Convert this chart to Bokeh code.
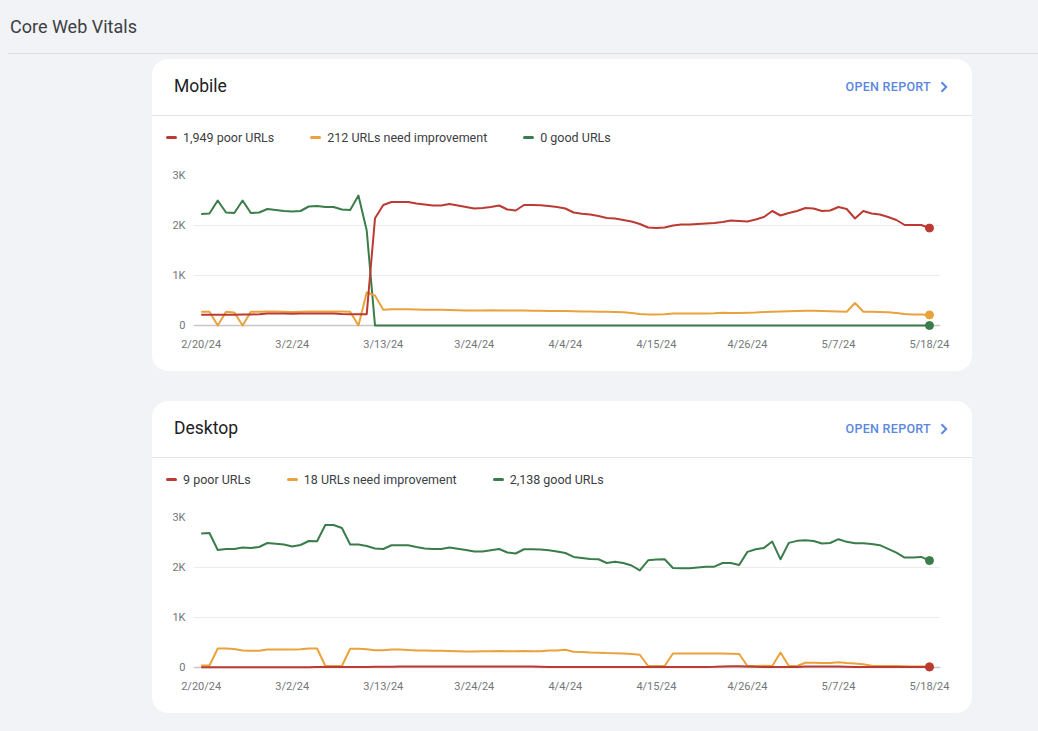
import numpy as np
import pandas as pd
from bokeh.plotting import figure
from bokeh.models import Div, Range1d, FixedTicker, Span
from bokeh.layouts import column
from bokeh.embed import file_html
from bokeh.resources import INLINE

# ---------------- data ----------------
dates = pd.date_range("2024-02-20", "2024-05-18", freq="D")
days = list(range(len(dates)))

tick_days = [0, 11, 22, 33, 44, 55, 66, 77, 88]
tick_labels = ["2/20/24", "3/2/24", "3/13/24", "3/24/24", "4/4/24",
               "4/15/24", "4/26/24", "5/7/24", "5/18/24"]
y_ticks = [0, 1000, 2000, 3000]
y_tick_labels = ["0", "1K", "2K", "3K"]

mobile_poor = [
    215, 215, 215, 215, 215, 220, 220, 225, 240, 240,
    240, 235, 240, 240, 240, 240, 240, 230, 225, 225,
    225, 2144, 2410, 2470, 2470, 2470, 2440, 2420, 2400, 2400,
    2430, 2400, 2370, 2340, 2350, 2370, 2400, 2320, 2300, 2410,
    2410, 2405, 2390, 2370, 2340, 2260, 2235, 2220, 2190, 2150,
    2140, 2110, 2080, 2030, 1960, 1950, 1960, 2000, 2020, 2020,
    2030, 2040, 2050, 2070, 2100, 2090, 2080, 2120, 2170, 2290,
    2200, 2250, 2290, 2350, 2340, 2290, 2300, 2370, 2330, 2140,
    2290, 2240, 2220, 2170, 2110, 2010, 2010, 2010, 1949,
]
mobile_ni = [
    275, 275, 0, 275, 260, 0, 275, 275, 280, 280,
    275, 270, 275, 280, 280, 280, 280, 280, 275, 0,
    660, 600, 315, 325, 325, 325, 320, 315, 315, 315,
    310, 305, 300, 300, 300, 305, 300, 300, 300, 300,
    295, 295, 290, 290, 290, 285, 280, 280, 275, 275,
    270, 265, 250, 230, 220, 220, 225, 240, 240, 240,
    240, 240, 245, 255, 250, 250, 255, 260, 270, 275,
    280, 285, 290, 295, 295, 290, 285, 280, 275, 450,
    275, 275, 270, 265, 250, 230, 220, 220, 212,
]
mobile_good = [
    2230, 2240, 2500, 2260, 2250, 2500, 2250, 2260, 2330, 2310,
    2290, 2280, 2290, 2380, 2390, 2370, 2370, 2320, 2310, 2600,
    1900, 0, 0, 0, 0, 0, 0, 0, 0, 0,
    0, 0, 0, 0, 0, 0, 0, 0, 0, 0,
    0, 0, 0, 0, 0, 0, 0, 0, 0, 0,
    0, 0, 0, 0, 0, 0, 0, 0, 0, 0,
    0, 0, 0, 0, 0, 0, 0, 0, 0, 0,
    0, 0, 0, 0, 0, 0, 0, 0, 0, 0,
    0, 0, 0, 0, 0, 0, 0, 0, 0,
]

desktop_poor = [
    5, 5, 5, 5, 5, 5, 5, 5, 5, 5,
    5, 5, 5, 5, 8, 8, 8, 10, 10, 10,
    12, 15, 15, 15, 18, 18, 18, 18, 18, 18,
    18, 18, 18, 18, 18, 18, 18, 18, 18, 18,
    18, 15, 12, 10, 10, 10, 10, 10, 12, 12,
    12, 12, 10, 8, 8, 8, 8, 8, 8, 10,
    10, 12, 15, 22, 25, 25, 22, 15, 12, 10,
    10, 10, 12, 18, 20, 20, 20, 18, 15, 12,
    12, 12, 10, 10, 10, 10, 9, 9, 9,
]
desktop_ni = [
    40, 40, 380, 380, 370, 340, 335, 335, 360, 360,
    360, 360, 365, 380, 380, 30, 30, 30, 375, 375,
    365, 345, 345, 360, 360, 350, 340, 340, 335, 335,
    330, 325, 320, 320, 325, 325, 330, 325, 325, 330,
    325, 325, 340, 340, 355, 315, 310, 300, 295, 288,
    285, 280, 270, 255, 30, 30, 30, 280, 282, 282,
    282, 280, 278, 278, 275, 270, 30, 30, 35, 30,
    300, 30, 30, 95, 95, 90, 90, 105, 90, 80,
    65, 35, 30, 30, 28, 25, 22, 20, 18,
]
desktop_good = [
    2680, 2690, 2350, 2370, 2370, 2400, 2390, 2410, 2490, 2475,
    2460, 2420, 2450, 2530, 2525, 2850, 2850, 2790, 2460, 2460,
    2430, 2380, 2370, 2445, 2445, 2445, 2410, 2380, 2370, 2370,
    2400, 2375, 2350, 2320, 2320, 2345, 2370, 2300, 2280, 2365,
    2365, 2360, 2345, 2320, 2290, 2211, 2190, 2171, 2165, 2090,
    2117, 2090, 2040, 1943, 2144, 2160, 2164, 1990, 1985, 1983,
    2000, 2017, 2017, 2090, 2090, 2050, 2312, 2365, 2392, 2519,
    2164, 2492, 2533, 2546, 2530, 2479, 2490, 2566, 2513, 2486,
    2486, 2470, 2446, 2372, 2298, 2198, 2198, 2211, 2138,
]

series_labels = ["poor URLs", "URLs need improvement", "good URLs"]
series_colors = ["#bb3b33", "#e9a23c", "#3a7d4b"]

FONT = "Roboto"
PAGE_BG = "#f1f3f7"


def make_chart(poor, ni, good):
    p = figure(width=820, height=215, output_backend="svg", toolbar_location=None,
               x_range=Range1d(-0.93, 89.33), y_range=Range1d(-100, 3000),
               min_border_left=41, min_border_right=32, min_border_top=19,
               min_border_bottom=41, background_fill_color=None,
               border_fill_color=None, outline_line_color=None, margin=0)
    p.background_fill_alpha = 0
    p.border_fill_alpha = 0

    ax = p.xaxis[0]
    ax.ticker = FixedTicker(ticks=tick_days)
    ax.major_label_overrides = {d: l for d, l in zip(tick_days, tick_labels)}
    ay = p.yaxis[0]
    ay.ticker = FixedTicker(ticks=y_ticks)
    ay.major_label_overrides = {v: l for v, l in zip(y_ticks, y_tick_labels)}
    for a in (ax, ay):
        a.axis_line_color = None
        a.major_tick_line_color = None
        a.minor_tick_line_color = None
        a.major_tick_out = 0
        a.major_tick_in = 0
        a.major_label_text_font = FONT
        a.major_label_text_font_size = "11px"
        a.major_label_text_color = "#737679"
    ax.major_label_standoff = 7
    ay.major_label_standoff = 8

    p.xgrid.visible = False
    p.ygrid.ticker = FixedTicker(ticks=y_ticks[1:])
    p.ygrid.grid_line_color = "#ececec"
    p.ygrid.grid_line_width = 1

    p.add_layout(Span(location=0, dimension="width", line_color="#c8c8c8",
                      line_width=1.5, level="underlay"))

    for vals, color in ((good, series_colors[2]), (ni, series_colors[1]),
                        (poor, series_colors[0])):
        p.line(days, vals, line_color=color, line_width=2, line_join="round")
        p.scatter([days[-1]], [vals[-1]], size=8, fill_color=color,
                  line_color=color)
    return p


def header_html(title):
    return (
        '<div style="width:820px;height:57px;box-sizing:border-box;'
        'border-bottom:1px solid #e3e4e7;display:flex;align-items:center;'
        'justify-content:space-between;padding:0 24px 2px 22px;">'
        f'<span style="font-family:Roboto;font-size:17.5px;color:#202124;">{title}</span>'
        '<span style="display:flex;align-items:center;font-family:Roboto;'
        'font-weight:500;font-size:12.5px;letter-spacing:0.3px;color:#5b87de;'
        'margin-top:1px;">OPEN REPORT'
        '<svg width="8" height="12" viewBox="0 0 8 12" style="margin-left:9px;">'
        '<path d="M1.5 1.2 L6.2 6 L1.5 10.8" stroke="#5b87de" stroke-width="2" '
        'fill="none"/></svg></span></div>'
    )


def legend_html(values):
    parts = []
    for v, lab, col in zip(values, series_labels, series_colors):
        parts.append(
            '<span style="display:inline-flex;align-items:center;margin-right:36px;">'
            f'<span style="display:inline-block;width:11px;height:3px;border-radius:2px;'
            f'background:{col};margin-right:6px;"></span>{v:,} {lab}</span>'
        )
    return ('<div style="font-family:Roboto;font-size:12.5px;color:#3c4043;'
            'padding-left:14px;padding-top:11px;line-height:16px;white-space:nowrap;">'
            + "".join(parts) + '</div>')


def card(title, poor, ni, good, top):
    head = Div(text=header_html(title), width=820, height=57, margin=0)
    leg = Div(text=legend_html([poor[-1], ni[-1], good[-1]]), width=820, height=40,
              margin=0)
    fig = make_chart(poor, ni, good)
    return column(head, leg, fig, width=820, height=312, margin=(top, 0, 0, 152),
                  styles={"background-color": "#ffffff", "border-radius": "16px"})


page_header = Div(
    text=('<div style="width:1030px;height:54px;box-sizing:border-box;'
          'border-bottom:1px solid #dcdee3;font-family:Roboto;font-size:18px;'
          'color:#3c4043;line-height:54px;padding-left:2px;">Core Web Vitals</div>'),
    width=1030, height=54, margin=(0, 0, 0, 8))

mobile_card = card("Mobile", mobile_poor, mobile_ni, mobile_good, 5)
desktop_card = card("Desktop", desktop_poor, desktop_ni, desktop_good, 30)

root = column(page_header, mobile_card, desktop_card, width=1038, height=731,
              margin=0, styles={"background-color": PAGE_BG})

open("out.html", "w").write(file_html(root, INLINE))
